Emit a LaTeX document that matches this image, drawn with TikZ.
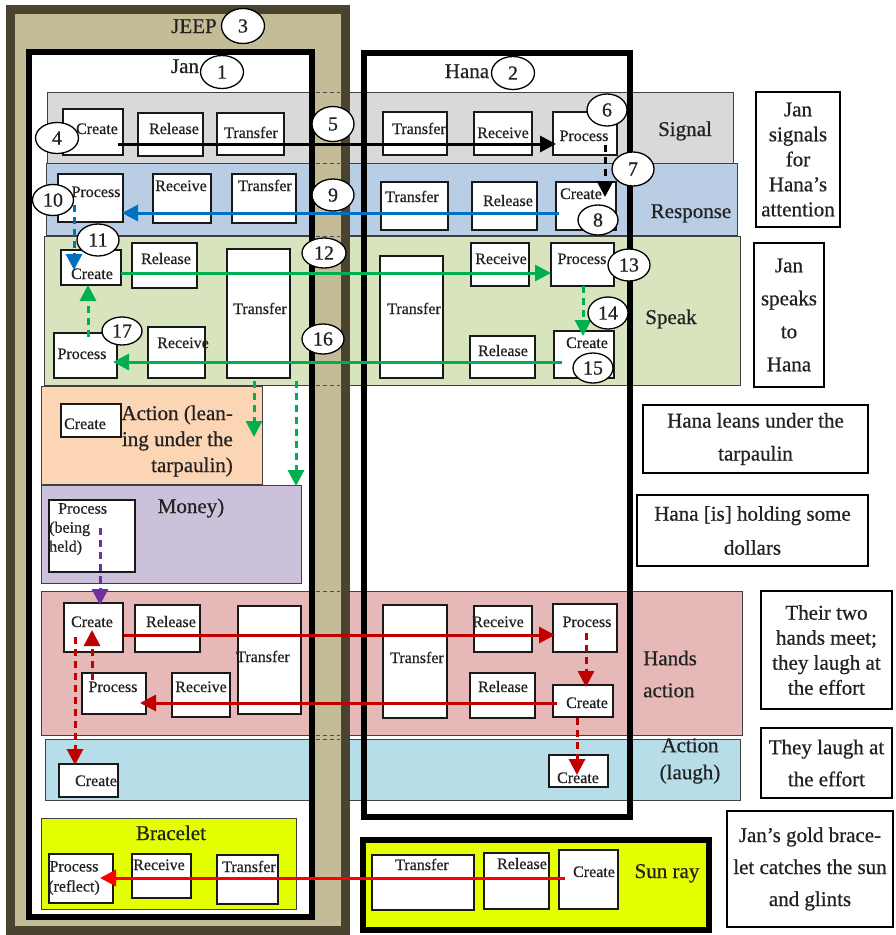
\documentclass[tikz,border=0pt]{standalone}
\usepackage{fontspec}
\setmainfont[FakeBold=0.6]{Liberation Serif}
\usetikzlibrary{arrows.meta,shapes.geometric,fit}
\definecolor{jeepdark}{HTML}{4A4330}
\definecolor{jeeptan}{HTML}{C4BC97}
\definecolor{cSig}{HTML}{D9D9D9}
\definecolor{cResp}{HTML}{B9CDE5}
\definecolor{cSpk}{HTML}{D7E4BD}
\definecolor{cAct}{HTML}{FCD5B5}
\definecolor{cMon}{HTML}{CCC1DA}
\definecolor{cHand}{HTML}{E6B9B8}
\definecolor{cLgh}{HTML}{B7DEE8}
\definecolor{cYel}{HTML}{E4FF00}
\definecolor{aBlue}{HTML}{0070C0}
\definecolor{aGreen}{HTML}{00B050}
\definecolor{aPurp}{HTML}{7030A0}
\definecolor{aRed}{HTML}{C00000}
\definecolor{aBright}{HTML}{FF0000}
\definecolor{txt}{HTML}{222222}
\newcommand{\mkbox}[8]{\node[pbox, fit={(#2,#3) (#4,#5)}] (#1) {};\node[ptxt] (#1t) at (#6,#7) {#8};}
\newcommand{\mknum}[5]{\node[num, minimum width=#4pt, minimum height=#5pt] (n#1) at (#2,#3) {#1};}
\begin{document}
\begin{tikzpicture}[x=1pt, y=-1pt, every node/.style={text=txt},
 band/.style={draw=black!75, line width=1pt, inner sep=0pt, outer sep=0pt},
 pbox/.style={draw=black!90, fill=white, line width=1.3pt, inner sep=0pt, outer sep=0pt},
 ptxt/.style={font=\fontsize{16}{18}\selectfont, inner sep=0pt, text height=11pt, text depth=3pt},
 num/.style={ellipse, draw, fill=white, line width=1.3pt, inner sep=0pt, font=\fontsize{20}{22}\selectfont},
 lbl/.style={font=\fontsize{21}{25}\selectfont, inner sep=0pt, text height=14pt, text depth=4pt},
 mlbl/.style={inner sep=0pt},
 tbox/.style={draw, fill=white, line width=1.3pt, inner sep=0pt, align=center},
 arr/.style={line width=3pt, -{Triangle[length=16pt,width=16pt]}},
 dsh/.style={dash pattern=on 7pt off 5pt}]
\useasboundingbox (0,0) rectangle (895,935);

% container fills
\fill[jeeptan] (10.5,9) rectangle (345,930);
\fill[white] (29,52) rectangle (312,917);
\fill[white] (364,53) rectangle (630,817);

% bands
\node[band, fill=cSig,  fit={(47,92) (733,163)}] (bSig) {};
\node[band, fill=cResp, fit={(46,163) (737,235)}] (bResp) {};
\node[band, fill=cSpk,  fit={(44,236) (740,385)}] (bSpk) {};
\node[band, fill=cAct,  fit={(41,386) (262,484)}] (bAct) {};
\node[band, fill=cMon,  fit={(41,485) (301,583)}] (bMon) {};
\node[band, fill=cHand, fit={(41,591) (742,735)}] (bHand) {};
\node[band, fill=cLgh,  fit={(45,739) (740,800)}] (bLgh) {};
\node[band, fill=cYel,  fit={(41,818) (296,909)}] (bBrc) {};

% tan strip between Jan and jeep border
\fill[jeeptan] (315,14) rectangle (340.5,925);
\foreach \yy in {92,163,236,385,591,735,739}
  \draw[black!70, line width=0.8pt, dash pattern=on 4pt off 3pt] (316,\yy) -- (340,\yy);

% container borders
\node[draw, line width=6pt, inner sep=0pt, fit={(29,52) (312,917)}] (jan) {};
\node[draw, line width=6pt, inner sep=0pt, fit={(364,53) (630,817)}] (hana) {};
\node[draw=jeepdark, line width=9pt, inner sep=0pt, fit={(10.5,9) (345,930)}] (jeep) {};
\node[draw, fill=cYel, line width=6pt, inner sep=0pt, fit={(363,840) (709,930)}] (sun) {};

% titles
\node[lbl] (tJeep) at (194,28) {JEEP};
\node[lbl] (tJan) at (185,68) {Jan};
\node[lbl] (tHana) at (467,73) {Hana};

% band labels
\node[lbl] (lSig) at (685,131) {Signal};
\node[lbl] (lResp) at (691,213) {Response};
\node[lbl] (lSpk) at (671,319) {Speak};
\node[mlbl, align=right, anchor=east, font=\fontsize{21}{26}\selectfont] (lAct) at (233,441) {Action (lean-\\ing under the\\tarpaulin)};
\node[lbl] (lMon) at (191,508) {Money)};
\node[mlbl, align=left, anchor=west, font=\fontsize{21}{32}\selectfont] (lHand) at (643,674) {Hands\\action};
\node[mlbl, align=center, font=\fontsize{21}{27}\selectfont] (lLgh) at (690,761) {Action\\(laugh)};
\node[lbl] (lBrc) at (171,835) {Bracelet};
\node[lbl] (lSun) at (667,873) {Sun ray};

% Signal
\mkbox{jsC}{63}{109}{123}{155}{97}{130}{Create}
\mkbox{jsR}{138}{113}{203}{156}{174}{130}{Release}
\mkbox{jsT}{217}{113}{284}{155}{251}{134}{Transfer}
\mkbox{hsT}{383}{112}{447}{155}{419}{130}{Transfer}
\mkbox{hsR}{474}{112}{532}{155}{503}{134}{Receive}
\mkbox{hsP}{553}{112}{617}{155}{584}{137}{Process}
% Response
\mkbox{jrP}{58}{174}{123}{222}{96}{193}{Process}
\mkbox{jrR}{153}{174}{211}{223}{181}{187}{Receive}
\mkbox{jrT}{232}{174}{296}{223}{265}{187}{Transfer}
\mkbox{hrT}{381}{182}{448}{230}{412}{198}{Transfer}
\mkbox{hrR}{472}{182}{537}{230}{508}{202}{Release}
\mkbox{hrC}{556}{182}{616}{230}{581}{195}{Create}
% Speak
\mkbox{jkC}{61}{250}{121}{285}{92}{275}{Create}
\mkbox{jkR}{132}{243}{197}{288}{166}{260}{Release}
\mkbox{jkT}{227}{249}{290}{378}{260}{310}{Transfer}
\mkbox{jkP}{54}{333}{117}{378}{82}{355}{Process}
\mkbox{jkV}{148}{327}{205}{378}{183}{344}{Receive}
\mkbox{hkT}{380}{256}{443}{378}{414}{310}{Transfer}
\mkbox{hkV}{471}{243}{529}{286}{501}{260}{Receive}
\mkbox{hkP}{551}{243}{614}{286}{582}{260}{Process}
\mkbox{hkR}{470}{336}{535}{378}{503}{352}{Release}
\mkbox{hkC}{554}{331}{614}{378}{587}{344}{Create}
% Action (leaning)
\mkbox{jaC}{61}{404}{121}{437}{85}{425}{Create}
% Money
\node[pbox, fit={(49,500) (135,572)}] (jmP) {};
\node[mlbl, align=left, anchor=north west, font=\fontsize{16}{19}\selectfont] (jmPt) at (49,503) {\hspace*{9pt}Process\\(being\\held)};
% Hands
\mkbox{jhC}{64}{603}{123}{652}{92}{623}{Create}
\mkbox{jhR}{135}{605}{200}{652}{171}{623}{Release}
\mkbox{jhT}{238}{606}{301}{714}{263}{658}{Transfer}
\mkbox{jhP}{82}{673}{146}{714}{113}{688}{Process}
\mkbox{jhV}{172}{673}{230}{717}{201}{688}{Receive}
\mkbox{hhT}{383}{605}{447}{718}{417}{659}{Transfer}
\mkbox{hhV}{474}{606}{532}{652}{498}{623}{Receive}
\mkbox{hhP}{553}{604}{617}{652}{587}{623}{Process}
\mkbox{hhR}{470}{673}{535}{718}{503}{688}{Release}
\mkbox{hhC}{553}{685}{613}{717}{587}{704}{Create}
% Laugh
\mkbox{jlC}{59}{764}{118}{797}{96}{782}{Create}
\mkbox{hlC}{549}{755}{608}{787}{578}{779}{Create}
% Bracelet
\node[pbox, fit={(49,854) (113,903)}] (jbP) {};
\node[mlbl, align=center, font=\fontsize{16}{20}\selectfont] (jbPt) at (74,878) {Process\\(reflect)};
\mkbox{jbV}{132}{854}{191}{898}{159}{866}{Receive}
\mkbox{jbT}{217}{855}{278}{904}{249}{868}{Transfer}
% Sun ray
\mkbox{suT}{372}{855}{474}{910}{422}{866}{Transfer}
\mkbox{suR}{484}{853}{549}{909}{522}{865}{Release}
\mkbox{suC}{559}{850}{618}{909}{594}{873}{Create}

% right-hand text boxes
\node[tbox, minimum width=84pt, minimum height=135pt, font=\fontsize{21}{25}\selectfont] (ta) at (798,159.5) {Jan\\signals\\for\\Hana’s\\attention};
\node[tbox, minimum width=70pt, minimum height=144pt, font=\fontsize{21}{33}\selectfont] (tb) at (789,315) {Jan\\speaks\\to\\Hana};
\node[tbox, minimum width=225pt, minimum height=68pt, font=\fontsize{21}{33}\selectfont] (tc) at (755.5,439) {Hana leans under the\\tarpaulin};
\node[tbox, minimum width=231pt, minimum height=71pt, font=\fontsize{21}{34}\selectfont] (td) at (752.5,530.5) {Hana [is] holding some\\dollars};
\node[tbox, minimum width=131pt, minimum height=118pt, font=\fontsize{21}{25}\selectfont] (te) at (826.5,650) {Their two\\hands meet;\\they laugh at\\the effort};
\node[tbox, minimum width=131pt, minimum height=70pt, font=\fontsize{21}{32}\selectfont] (tf) at (826.5,763) {They laugh at\\the effort};
\node[tbox, minimum width=166pt, minimum height=116pt, font=\fontsize{21}{32}\selectfont] (tg) at (810,869) {Jan’s gold brace-\\let catches the sun\\and glints};

% arrows
\draw[arr, black] ([shift={(-5,12)}]jsC.east) -- ([shift={(3,10.5)}]hsP.west);
\draw[arr, black, dsh] ([shift={(20,11.5)}]hsP.center) -- ([shift={(19,-9)}]hrC.center);
\draw[arr, aBlue] ([shift={(-27,7)}]hrC.center) -- ([shift={(-1,15)}]jrP.east);
\draw[arr, aBlue, dsh] ([shift={(-16.5,7)}]jrP.center) -- ([shift={(-17,2.5)}]jkC.center);
\draw[arr, aGreen] ([shift={(0,5.5)}]jkC.east) -- ([shift={(0,8.5)}]hkP.west);
\draw[arr, aGreen, dsh] ([shift={(0.5,0)}]hkP.south) -- ([shift={(-1,-18.5)}]hkC.center);
\draw[arr, aGreen] ([shift={(-22,7.5)}]hkC.center) -- ([shift={(-4,6.5)}]jkP.east);
\draw[arr, aGreen, dsh] ([shift={(2.5,-18.5)}]jkP.center) -- ([shift={(-3,0)}]jkC.south);
\draw[arr, aGreen, dsh] ([shift={(-4.5,3)}]jkT.south) -- ([shift={(102.5,2)}]bAct.center);
\draw[arr, aGreen, dsh] ([shift={(37.5,3)}]jkT.south) -- ([shift={(125,1)}]bMon.north);
\draw[arr, aPurp, dsh] ([shift={(8,-8)}]jmP.center) -- ([shift={(6.5,2)}]jhC.north);
\draw[arr, aRed] ([shift={(1,7.5)}]jhC.east) -- ([shift={(2,7)}]hhP.west);
\draw[arr, aRed, dsh] ([shift={(1,5)}]hhP.center) -- ([shift={(3,2)}]hhC.north);
\draw[arr, aRed] ([shift={(4,2)}]hhC.west) -- ([shift={(-6,9.5)}]jhP.east);
\draw[arr, aRed, dsh] ([shift={(-22,-13.5)}]jhP.center) -- ([shift={(-1.5,2.5)}]jhC.center);
\draw[arr, aRed, dsh] ([shift={(-18.5,9.5)}]jhC.center) -- ([shift={(-13.5,1)}]jlC.north);
\draw[arr, aRed, dsh] ([shift={(-6,1)}]hhC.south) -- ([shift={(-1.5,4)}]hlC.center);
\draw[arr, aBright] ([shift={(-23.5,-1.5)}]suC.center) -- ([shift={(19,-0.5)}]jbP.center);

% number ellipses
\mknum{3}{243}{26}{43}{35}
\mknum{1}{222}{72}{43}{33}
\mknum{2}{513}{73}{43}{33}
\mknum{4}{57}{138}{43}{31}
\mknum{5}{333}{124}{42}{35}
\mknum{6}{607}{110}{40}{32}
\mknum{7}{633}{169}{42}{34}
\mknum{8}{598}{220}{40}{30}
\mknum{9}{333}{195}{42}{32}
\mknum{10}{53}{200}{41}{31}
\mknum{11}{98}{240}{42}{32}
\mknum{12}{324}{253}{44}{30}
\mknum{13}{629}{265}{42}{32}
\mknum{14}{608}{313}{40}{32}
\mknum{15}{593}{368}{40}{30}
\mknum{16}{323}{339}{42}{30}
\mknum{17}{122}{331}{40}{28}
\end{tikzpicture}
\end{document}
